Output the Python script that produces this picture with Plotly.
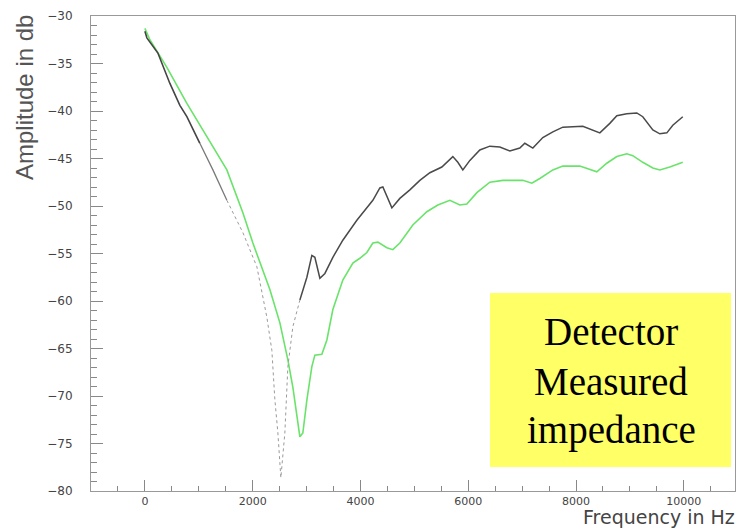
import plotly.graph_objects as go

# Measured impedance curves: frequency (Hz) vs amplitude (dB)
black_freq = [0, 37, 241, 464, 649, 779, 1020, 1262, 1521, 1818, 2078, 2263, 2356,
              2412, 2468, 2505, 2523, 2597, 2653, 2746, 2876, 3006, 3098, 3154, 3247,
              3340, 3488, 3673, 3933, 4230, 4360, 4416, 4583, 4731, 4917, 5102, 5288,
              5510, 5714, 5807, 5900, 6030, 6215, 6401, 6586, 6772, 6957, 7050, 7199,
              7384, 7570, 7755, 8126, 8312, 8442, 8627, 8757, 8942, 9128, 9239, 9425,
              9555, 9685, 9796, 9981]
black_db = [-31.6, -32.3, -33.9, -37.1, -39.4, -40.6, -43.4, -46.2, -49.4, -52.8,
            -56.4, -61.7, -65.2, -70.4, -73.9, -77.5, -78.6, -73.9, -66.9, -62.7, -59.9,
            -57.5, -55.2, -55.4, -57.6, -57.1, -55.4, -53.6, -51.5, -49.4, -48.1, -48.0,
            -50.2, -49.2, -48.3, -47.3, -46.5, -45.9, -44.8, -45.4, -46.2, -45.2, -44.1,
            -43.7, -43.8, -44.2, -43.9, -43.4, -43.9, -42.8, -42.2, -41.7, -41.6, -42.0,
            -42.3, -41.3, -40.5, -40.3, -40.2, -40.6, -42.0, -42.4, -42.3, -41.5, -40.6]

green_freq = [0, 37, 93, 408, 779, 1150, 1521, 1818, 2004, 2319, 2505, 2653,
              2746, 2876, 2931, 3006, 3098, 3154, 3284, 3377, 3488, 3673, 3859, 3989,
              4119, 4230, 4323, 4490, 4601, 4731, 4972, 5232, 5436, 5659, 5844, 5974,
              6160, 6401, 6642, 7013, 7180, 7328, 7570, 7755, 8071, 8386, 8571, 8757,
              8942, 9054, 9239, 9425, 9555, 9740, 9981]
green_db = [-31.3, -31.8, -32.5, -35.4, -39.2, -42.7, -46.2, -50.7, -53.9,
            -58.8, -62.3, -66.2, -69.1, -74.3, -73.9, -70.4, -66.9, -65.7, -65.6, -64.1,
            -60.9, -57.8, -56.0, -55.5, -54.9, -53.9, -53.8, -54.4, -54.6, -53.9, -52.0,
            -50.6, -49.9, -49.4, -49.9, -49.8, -48.6, -47.5, -47.3, -47.3, -47.6, -47.1,
            -46.2, -45.8, -45.8, -46.4, -45.5, -44.8, -44.5, -44.7, -45.4, -46.0, -46.2,
            -45.9, -45.4]

x_ticks = [0, 2000, 4000, 6000, 8000, 10000]
x_tick_text = ["0", "2000", "4000", "6000", "8000", "10000"]
box_lines = ["Detector", "Measured", "impedance"]

# the dark curve fades out towards the notch, where it is drawn sparsely (dotted)
fade_at, notch_lo, notch_hi = 1020, 1521, 2876


def segment(lo, hi):
    idx = [i for i, f in enumerate(black_freq) if lo <= f <= hi]
    return [black_freq[i] for i in idx], [black_db[i] for i in idx]


fig = go.Figure()
fig.add_trace(go.Scatter(x=green_freq, y=green_db, mode="lines",
                         line=dict(color="#6ae36a", width=1.6), showlegend=False))
for (lo, hi), style in [((0, fade_at), dict(color="#454545", width=1.6)),
                        ((fade_at, notch_lo), dict(color="#7a7a7a", width=1.3)),
                        ((notch_lo, notch_hi), dict(color="#9a9a9a", width=1, dash="dot")),
                        ((notch_hi, 1e9), dict(color="#4a4a4a", width=1.5))]:
    xs, ys = segment(lo, hi)
    fig.add_trace(go.Scatter(x=xs, y=ys, mode="lines", line=style, showlegend=False))

x_tick_font = dict(family="DejaVu Sans", size=11, color="#444")
y_tick_font = dict(family="DejaVu Sans", size=12, color="#444")

fig.update_xaxes(range=[-1000, 10950], tickvals=x_ticks, ticktext=x_tick_text,
                 ticks="inside", ticklen=11,
                 tickcolor="#888", showline=True, linecolor="#999", linewidth=1, mirror=True,
                 showgrid=False, zeroline=False, tickfont=x_tick_font, ticklabelstandoff=0,
                 minor=dict(ticks="inside", ticklen=5, dtick=500, tick0=0,
                            tickcolor="#888", showgrid=False))
fig.update_yaxes(range=[-80, -30], dtick=5, tick0=-80, ticks="inside", ticklen=12,
                 tickcolor="#888", showline=True, linecolor="#999", linewidth=1, mirror=True,
                 showgrid=False, zeroline=False, tickfont=y_tick_font, ticklabelstandoff=15,
                 minor=dict(ticks="inside", ticklen=6, dtick=1, tick0=-80,
                            tickcolor="#888", showgrid=False))

W, H = 738, 529
ml, mr, mt, mb = 91, 3, 16, 38
pw, ph = W - ml - mr, H - mt - mb


def px_x(x):
    return (x - ml) / pw


def px_y(y):
    return (H - mb - y) / ph


# yellow caption box
fig.add_shape(type="rect", xref="paper", yref="paper",
              x0=px_x(490), x1=px_x(731), y0=px_y(467), y1=px_y(293),
              fillcolor="#ffff66", line=dict(width=0), layer="above")
for txt, yc in zip(box_lines, [332, 381, 430]):
    fig.add_annotation(text=txt, xref="paper", yref="paper", x=px_x(611), y=px_y(yc),
                       xanchor="center", yanchor="middle", showarrow=False,
                       font=dict(family="Liberation Serif", size=39, color="black"))

# axis titles
fig.add_annotation(text="Amplitude in db", xref="paper", yref="paper",
                   x=px_x(24), y=px_y(98), xanchor="center", yanchor="middle",
                   textangle=-90, showarrow=False,
                   font=dict(family="Liberation Sans", size=24, color="#555"))
fig.add_annotation(text="Frequency in Hz", xref="paper", yref="paper",
                   x=px_x(736), y=px_y(529), xanchor="right", yanchor="bottom",
                   showarrow=False, borderpad=0,
                   font=dict(family="DejaVu Sans", size=19, color="#444"))

fig.update_layout(width=W, height=H, margin=dict(l=ml, r=mr, t=mt, b=mb),
                  paper_bgcolor="white", plot_bgcolor="white", showlegend=False)

fig.write_html("out.html")
